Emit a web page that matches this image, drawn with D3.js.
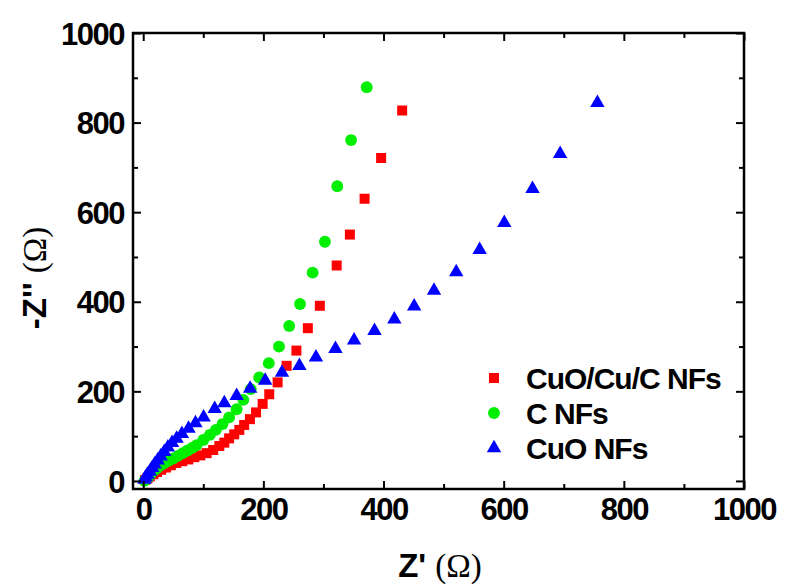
<!DOCTYPE html>
<html>
<head>
<meta charset="utf-8">
<script src="https://cdn.jsdelivr.net/npm/d3@7"></script>
<style>
  html, body { margin: 0; padding: 0; background: #fff; }
  svg { display: block; }
  text { font-family: "Liberation Sans", Arial, sans-serif; font-weight: bold; fill: #000; }
</style>
</head>
<body>
<svg id="chart" width="785" height="586"></svg>
<script>
// ---- Data ----
const seriesNames = ["CuO/Cu/C NFs", "C NFs", "CuO NFs"];
const seriesColors = ["#ff0000", "#00ee00", "#0000ff"];

const cuoCuCX = [3, 7, 11, 17, 23, 30, 38, 46, 55, 65, 75, 85, 95, 105.5, 116.5, 126.7, 135, 143, 151.5, 160, 168, 177.6, 187.8, 198.8, 209.8, 223.7, 238.7, 255, 274, 294, 322, 344, 368.5, 396, 431];
const cuoCuCY = [2, 6, 10, 15, 20, 25, 30, 35, 40, 44, 48, 53, 57, 62, 69, 78, 85.5, 95, 104, 114, 125, 138, 153, 172, 193.5, 220, 257, 291, 341, 391, 481, 550, 630, 721, 827];

const cX = [2, 5, 9, 13, 18, 23, 29, 35, 42, 50, 58, 66, 74, 82, 89, 100, 111, 121, 132, 143, 155.5, 166.6, 179, 193, 209, 226, 243, 261, 282, 302.5, 323, 346, 372];
const cY = [0, 3, 9, 16, 23, 29, 35, 40, 45, 50, 56, 62, 68, 74, 80, 91.5, 103, 114, 127, 142, 160, 181, 205, 231, 263, 300, 346, 395, 465, 534, 658, 761, 879];

const cuoX = [2, 4, 7, 11, 15, 19, 24, 29, 35, 41, 48, 55.6, 64.4, 75.5, 87, 100.5, 119, 135, 155.5, 178, 203, 231, 260, 287.5, 320, 351, 385, 418, 451, 484, 521, 560, 601, 648, 694, 756];
const cuoY = [3, 8, 14, 21, 29, 37, 46, 55, 65, 75, 85, 94.5, 105, 117, 129, 142, 161, 174, 190, 206, 224, 242, 257, 276, 295, 314, 335, 361, 390, 425, 466, 516, 576, 652, 730, 844];

const xMajorTicks = [0, 200, 400, 600, 800, 1000];
const xMinorTicks = [100, 300, 500, 700, 900];
const yMajorTicks = [0, 200, 400, 600, 800, 1000];
const yMinorTicks = [100, 300, 500, 700, 900];

const xTitle = "Z'";
const yTitle = "-Z''";
const unit = "(\u03A9)";

// ---- Layout ----
const svg = d3.select("#chart");
const L = 133, R = 744, T = 33, B = 489;

const x = d3.scaleLinear().domain([-17, 1000]).range([L, R]);
const y = d3.scaleLinear().domain([-18, 1000]).range([B, T]);

const series = [
  { name: seriesNames[0], color: seriesColors[0], sym: d3.symbolSquare, size: 100, pts: cuoCuCX.map((v, i) => [v, cuoCuCY[i]]) },
  { name: seriesNames[1], color: seriesColors[1], sym: d3.symbolCircle, size: 110, pts: cX.map((v, i) => [v, cY[i]]) },
  { name: seriesNames[2], color: seriesColors[2], sym: d3.symbolTriangle, size: 90, pts: cuoX.map((v, i) => [v, cuoY[i]]) }
];

// data marks
series.forEach(s => {
  svg.append("g").selectAll("path").data(s.pts).enter().append("path")
    .attr("d", d3.symbol().type(s.sym).size(s.size))
    .attr("transform", d => `translate(${x(d[0])},${y(d[1])})`)
    .attr("fill", s.color);
});

// axes (ticks inward)
function styleAxis(g) {
  g.select(".domain").remove();
  g.selectAll(".tick line").attr("stroke", "#000").attr("stroke-width", 2);
}
const fs = 31;
const gxB = svg.append("g").attr("transform", `translate(0,${B})`)
  .call(d3.axisBottom(x).tickValues(xMajorTicks).tickSize(-8).tickPadding(12).tickFormat(d3.format("d")));
styleAxis(gxB);
gxB.selectAll(".tick text").style("font-size", fs + "px").attr("letter-spacing", "-1.5").attr("y", 9).attr("dy", "0.71em").attr("fill", "#000");
svg.append("g").attr("transform", `translate(0,${B})`)
  .call(d3.axisBottom(x).tickValues(xMinorTicks).tickSize(-5).tickFormat("")).call(styleAxis);
svg.append("g").attr("transform", `translate(0,${T})`)
  .call(d3.axisTop(x).tickValues(xMajorTicks).tickSize(-8).tickFormat("")).call(styleAxis);
svg.append("g").attr("transform", `translate(0,${T})`)
  .call(d3.axisTop(x).tickValues(xMinorTicks).tickSize(-5).tickFormat("")).call(styleAxis);

const gyL = svg.append("g").attr("transform", `translate(${L},0)`)
  .call(d3.axisLeft(y).tickValues(yMajorTicks).tickSize(-8).tickPadding(10).tickFormat(d3.format("d")));
styleAxis(gyL);
gyL.selectAll(".tick text").style("font-size", fs + "px").attr("letter-spacing", "-1.5").attr("dy", "0.36em").attr("x", -9).attr("fill", "#000");
svg.append("g").attr("transform", `translate(${L},0)`)
  .call(d3.axisLeft(y).tickValues(yMinorTicks).tickSize(-5).tickFormat("")).call(styleAxis);
svg.append("g").attr("transform", `translate(${R},0)`)
  .call(d3.axisRight(y).tickValues(yMajorTicks).tickSize(-8).tickFormat("")).call(styleAxis);
svg.append("g").attr("transform", `translate(${R},0)`)
  .call(d3.axisRight(y).tickValues(yMinorTicks).tickSize(-5).tickFormat("")).call(styleAxis);

svg.selectAll(".tick text").style("font-family", "'Liberation Sans', Arial, sans-serif").style("font-weight", "bold");

// frame
svg.append("rect").attr("x", L).attr("y", T).attr("width", R - L).attr("height", B - T)
  .attr("fill", "none").attr("stroke", "#000").attr("stroke-width", 2.5);

// axis titles
const xt = svg.append("text").attr("x", 440).attr("y", 577).attr("text-anchor", "middle").style("font-size", "33px");
xt.append("tspan").text(xTitle + " ");
xt.append("tspan").style("font-family", "'Liberation Serif', 'Times New Roman', serif").style("font-weight", "normal").text(unit);

const yt = svg.append("text").attr("transform", "translate(46,278) rotate(-90)").attr("text-anchor", "middle").style("font-size", "33px");
yt.append("tspan").text(yTitle + " ");
yt.append("tspan").style("font-family", "'Liberation Serif', 'Times New Roman', serif").style("font-weight", "normal").text(unit);

// legend
const legY = [378, 413, 448];
series.forEach((s, i) => {
  svg.append("path").attr("d", d3.symbol().type(s.sym).size(s.size)())
    .attr("transform", `translate(494,${legY[i]})`).attr("fill", s.color);
  svg.append("text").attr("x", 526).attr("y", legY[i]).attr("dy", "0.36em")
    .attr("letter-spacing", "-1").style("font-size", "30px").text(s.name);
});
</script>
</body>
</html>
